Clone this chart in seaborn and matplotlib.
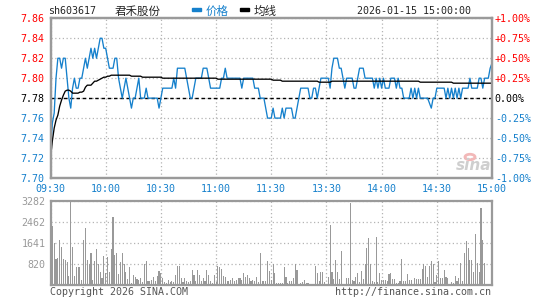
import numpy as np
import pandas as pd
import matplotlib
matplotlib.use("Agg")
import matplotlib.pyplot as plt
import seaborn as sns
from matplotlib.patches import Rectangle, Circle

# ---- chart data ----------------------------------------------------------
TIME_TICKS = [0, 30, 60, 90, 120, 150, 180, 210, 240]
TIME_LABELS = ["09:30", "10:00", "10:30", "11:00", "11:30", "13:30", "14:00", "14:30", "15:00"]
PRICE_TICKS = [7.70, 7.72, 7.74, 7.76, 7.78, 7.80, 7.82, 7.84, 7.86]
PCT_LABELS = ["-1.00%", "-0.75%", "-0.50%", "-0.25%", "0.00%", "+0.25%", "+0.50%", "+0.75%", "+1.00%"]
VOL_TICKS = [820, 1641, 2462, 3282]
PREV_CLOSE = 7.78

# minute prices, 09:30 .. 15:00 (241 points)
price_am1 = [7.725, 7.755, 7.765, 7.80, 7.82, 7.82, 7.81, 7.82, 7.82, 7.80,
             7.78, 7.77, 7.79, 7.80, 7.79, 7.79, 7.80, 7.80, 7.81, 7.82,
             7.81, 7.82, 7.83, 7.82, 7.83, 7.82, 7.83, 7.84, 7.84, 7.83,
             7.83]
price_am2 = [7.82, 7.81, 7.81, 7.81, 7.82, 7.82, 7.80, 7.79, 7.78, 7.79,
             7.80, 7.79, 7.78, 7.77, 7.78, 7.78, 7.79, 7.80, 7.78, 7.78,
             7.78, 7.79, 7.78, 7.78, 7.78, 7.78, 7.78, 7.78, 7.77, 7.78]
price_am3 = [7.79, 7.79, 7.79, 7.79, 7.79, 7.79, 7.80, 7.79, 7.81, 7.81,
             7.81, 7.81, 7.81, 7.80, 7.79, 7.78, 7.78, 7.79, 7.80, 7.80,
             7.80, 7.80, 7.81, 7.81, 7.81, 7.80, 7.79, 7.79, 7.79, 7.79]
price_am4 = [7.79, 7.79, 7.80, 7.80, 7.81, 7.80, 7.80, 7.80, 7.80, 7.80,
             7.80, 7.80, 7.80, 7.79, 7.80, 7.80, 7.80, 7.80, 7.80, 7.80,
             7.79, 7.79, 7.79, 7.78, 7.78, 7.78, 7.77, 7.76, 7.76, 7.76]
price_pm1 = [7.77, 7.76, 7.76, 7.76, 7.76, 7.77, 7.76, 7.77, 7.77, 7.77,
             7.77, 7.76, 7.76, 7.77, 7.78, 7.79, 7.79, 7.79, 7.79, 7.79,
             7.78, 7.78, 7.79, 7.79, 7.78, 7.79, 7.80, 7.80, 7.80, 7.80]
price_pm2 = [7.80, 7.79, 7.81, 7.82, 7.82, 7.82, 7.81, 7.81, 7.80, 7.79,
             7.80, 7.80, 7.80, 7.80, 7.79, 7.79, 7.80, 7.81, 7.81, 7.81,
             7.80, 7.80, 7.80, 7.80, 7.80, 7.79, 7.80, 7.79, 7.80, 7.79]
price_pm3 = [7.80, 7.79, 7.79, 7.79, 7.80, 7.80, 7.80, 7.79, 7.80, 7.79,
             7.79, 7.78, 7.78, 7.78, 7.78, 7.79, 7.78, 7.79, 7.78, 7.79,
             7.78, 7.78, 7.78, 7.78, 7.78, 7.775, 7.77, 7.78, 7.78, 7.79]
price_pm4 = [7.79, 7.79, 7.79, 7.79, 7.78, 7.79, 7.78, 7.79, 7.78, 7.79,
             7.78, 7.79, 7.78, 7.79, 7.79, 7.79, 7.79, 7.80, 7.79, 7.79,
             7.79, 7.79, 7.80, 7.80, 7.79, 7.80, 7.80, 7.80, 7.81, 7.815]

# average price line
avg_am1 = [7.720, 7.737, 7.750, 7.758, 7.763, 7.772, 7.778, 7.783, 7.787, 7.788,
           7.788, 7.787, 7.785, 7.785, 7.785, 7.785, 7.786, 7.786, 7.787, 7.791,
           7.793, 7.793, 7.793, 7.795, 7.797, 7.797, 7.798, 7.799, 7.800, 7.801,
           7.801]
avg_am2 = [7.802] * 2 + [7.803] * 11 + [7.802] * 6 + [7.801] * 11
avg_am3 = [7.800] * 30
avg_am4 = [7.799] * 30
avg_pm1 = [7.798] * 5 + [7.797] * 20 + [7.796] * 5
avg_pm2 = [7.796] * 2 + [7.797] * 28
avg_pm3 = [7.797] * 20 + [7.796] * 10
avg_pm4 = [7.796] * 8 + [7.795] * 22

# minute volume (lots)
vol_am1 = [550, 2300, 1640, 1015, 1055, 1760, 1475, 1015, 990, 900,
           350, 3282, 1475, 330, 700, 700, 700, 180, 1760, 2235,
           975, 820, 1250, 180, 940, 1410, 800, 500, 270, 1130,
           450]
vol_am2 = [1095, 500, 1410, 2670, 1185, 1250, 425, 900, 1250, 820,
           500, 215, 700, 60, 400, 290, 230, 180, 270, 100,
           820, 950, 150, 150, 200, 300, 150, 350, 560, 460]
vol_am3 = [250, 120, 80, 200, 100, 150, 120, 400, 740, 740,
           250, 120, 250, 150, 120, 150, 600, 400, 150, 600,
           400, 150, 250, 150, 600, 400, 150, 80, 400, 120]
vol_am4 = [750, 700, 620, 350, 300, 150, 150, 200, 250, 150,
           170, 250, 260, 200, 450, 300, 400, 250, 150, 170,
           150, 300, 100, 1250, 150, 150, 150, 950, 540, 200]
vol_pm1 = [820, 460, 70, 80, 70, 80, 690, 300, 70, 130,
           160, 270, 820, 580, 40, 90, 110, 190, 70, 60,
           40, 40, 40, 720, 450, 150, 500, 500, 100, 50]
vol_pm2 = [300, 2370, 500, 240, 990, 500, 230, 1340, 30, 30,
           270, 270, 3230, 190, 140, 300, 450, 110, 560, 230,
           820, 1450, 1840, 820, 140, 110, 1880, 110, 450, 200]
vol_pm3 = [190, 180, 140, 430, 460, 230, 230, 70, 70, 150,
           1020, 160, 160, 430, 180, 200, 30, 270, 230, 230,
           230, 640, 820, 720, 310, 740, 950, 820, 110, 400]
vol_pm4 = [950, 270, 270, 580, 300, 270, 30, 110, 70, 350,
           160, 270, 860, 160, 1250, 1710, 1450, 980, 980, 500,
           2010, 850, 500, 3020, 1760, 860, 0, 0, 0, 0]

PRICE = price_am1 + price_am2 + price_am3 + price_am4 + price_pm1 + price_pm2 + price_pm3 + price_pm4
AVG = avg_am1 + avg_am2 + avg_am3 + avg_am4 + avg_pm1 + avg_pm2 + avg_pm3 + avg_pm4
VOLUME = vol_am1 + vol_am2 + vol_am3 + vol_am4 + vol_pm1 + vol_pm2 + vol_pm3 + vol_pm4

df = pd.DataFrame({"minute": np.arange(len(PRICE)), "price": PRICE, "avg": AVG, "volume": VOLUME})

# ---- style ---------------------------------------------------------------
BLUE = "#1580cc"
RED = "#ff0000"
FRAME = "#9a9a9a"
GRID = "#b4b4b4"
BARS = "#999999"

sns.set_style("white")
plt.rcParams["font.family"] = ["DejaVu Sans Mono", "Noto Sans CJK SC"]
CJK = ["Noto Sans CJK SC", "DejaVu Sans"]

W, H = 545, 300
fig = plt.figure(figsize=(W / 100, H / 100), dpi=100)


def box(l, t, r, b):
    return [l / W, 1 - b / H, (r - l) / W, (b - t) / H]


def ftext(x, y, s, **kw):
    fig.text(x / W, 1 - y / H, s, **kw)


def frame(a):
    for s in a.spines.values():
        s.set_color(FRAME)
        s.set_linewidth(1.6)


ax = fig.add_axes(box(50.5, 18.3, 492, 178))
axv = fig.add_axes(box(50.5, 201.3, 492, 284.8))

# price panel
ax.axhline(PREV_CLOSE, color="black", ls=(0, (2.5, 2)), lw=1.0, zorder=2)
sns.lineplot(data=df, x="minute", y="price", ax=ax, color=BLUE, lw=0.95, zorder=3)
sns.lineplot(data=df, x="minute", y="avg", ax=ax, color="black", lw=0.95, zorder=4)
ax.set_xlim(0, 240)
ax.set_ylim(7.70, 7.86)
ax.set_xticks(TIME_TICKS)
ax.set_xticklabels(TIME_LABELS, color=BLUE, size=7.2)
ax.set_yticks(PRICE_TICKS)
ax.set_yticklabels(["%.2f" % v for v in PRICE_TICKS], size=7.2)
ax.grid(True, color=GRID, ls=(0, (1, 2)), lw=0.9)
ax.set_xlabel("")
ax.set_ylabel("")
ax.tick_params(length=0, pad=4.5)
frame(ax)

axr = ax.twinx()
axr.set_ylim(7.70, 7.86)
axr.set_yticks(PRICE_TICKS)
axr.set_yticklabels(PCT_LABELS, size=7.2)
axr.tick_params(length=0, pad=2)
frame(axr)

for i, (l1, l2) in enumerate(zip(ax.get_yticklabels(), axr.get_yticklabels())):
    c = "black" if i == 4 else (RED if i > 4 else BLUE)
    l1.set_color(c)
    l2.set_color(c)

# volume panel
axv.bar(df["minute"], df["volume"], width=0.6, color=BARS, linewidth=0)
axv.set_xlim(0, 240)
axv.set_ylim(0, 3282)
axv.set_xticks(TIME_TICKS)
axv.set_xticklabels([])
axv.set_yticks(VOL_TICKS)
axv.set_yticklabels([str(v) for v in VOL_TICKS], color="#999999", size=7.2)
axv.grid(True, color=GRID, ls=(0, (1, 2)), lw=0.9)
axv.tick_params(length=0, pad=3.5)
frame(axv)

# header
ftext(48, 11.5, "sh603617", ha="left", va="center", size=7.2)
ftext(115, 11.5, "君禾股份", ha="left", va="center", size=8.3, family=CJK)
fig.patches.append(Rectangle((191.7 / W, 1 - 10.8 / H), 9.3 / W, 2.6 / H,
                             transform=fig.transFigure, color=BLUE))
ftext(206, 11.5, "价格", ha="left", va="center", size=8.3, color=BLUE, family=CJK)
fig.patches.append(Rectangle((240 / W, 1 - 10.8 / H), 9.3 / W, 2.6 / H,
                             transform=fig.transFigure, color="black"))
ftext(254, 11.5, "均线", ha="left", va="center", size=8.3, family=CJK)
ftext(471, 11.5, "2026-01-15 15:00:00", ha="right", va="center", size=7.2)

# watermark + footer
fig.patches.append(Circle((470 / W, 1 - 157 / H), 5 / W, transform=fig.transFigure,
                          facecolor="none", edgecolor="#f2b8b8", lw=2))
ftext(474, 166, "sina", ha="center", va="center", size=11, color="#cfcfcf",
      weight="bold", style="italic", family="DejaVu Sans")
ftext(50, 292, "Copyright 2026 SINA.COM", ha="left", va="center", size=7.2, color="#555555")
ftext(491, 292, "http://finance.sina.com.cn", ha="right", va="center", size=7.2, color="#555555")

fig.savefig("out.png", dpi=100)
